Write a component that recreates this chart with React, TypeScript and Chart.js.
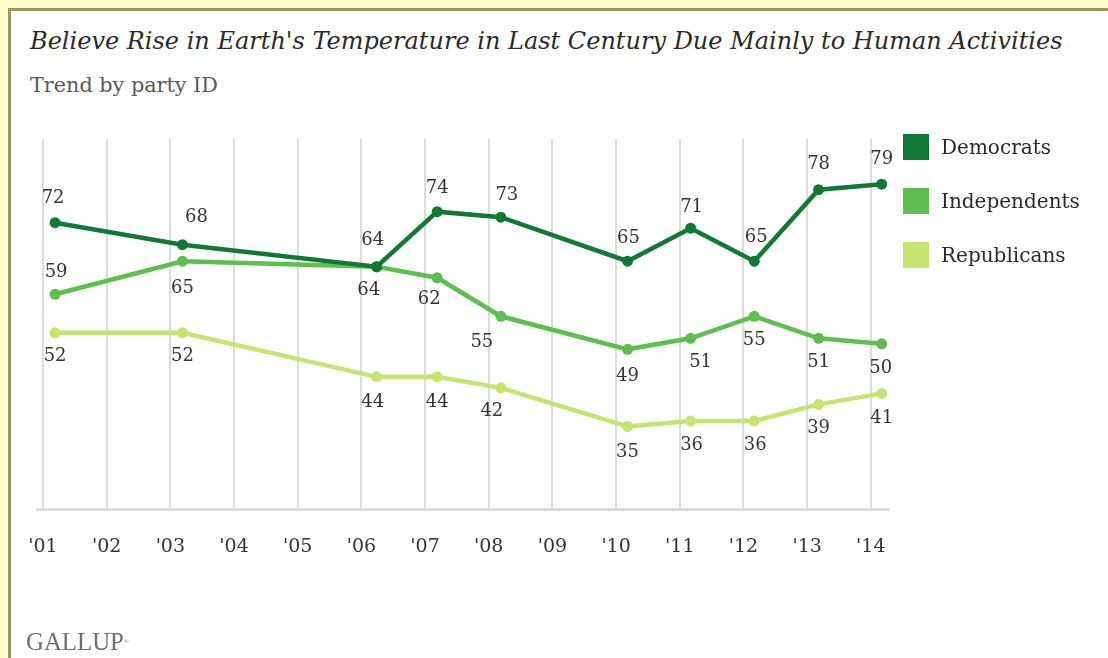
import React, { useEffect, useRef } from 'react';
import { Chart, registerables } from 'chart.js';

Chart.register(...registerables);

// ---- Data ----
const titleText = "Believe Rise in Earth's Temperature in Last Century Due Mainly to Human Activities";
const subtitleText = 'Trend by party ID';
const seriesNames = ['Democrats', 'Independents', 'Republicans'];
const seriesColors = ['#107A35', '#5DBF4E', '#C6E56F'];

// survey dates (decimal years; Gallup March polls)
const surveyDates = [2001.19, 2003.19, 2006.24, 2007.19, 2008.19, 2010.18, 2011.17, 2012.17, 2013.18, 2014.17];
const democrats = [72, 68, 64, 74, 73, 65, 71, 65, 78, 79];
const independents = [59, 65, 64, 62, 55, 49, 51, 55, 51, 50];
const republicans = [52, 52, 44, 44, 42, 35, 36, 36, 39, 41];

const tickYears = [2001, 2002, 2003, 2004, 2005, 2006, 2007, 2008, 2009, 2010, 2011, 2012, 2013, 2014];
const tickLabels = ["'01", "'02", "'03", "'04", "'05", "'06", "'07", "'08", "'09", "'10", "'11", "'12", "'13", "'14"];

// label nudges [dx, dy] relative to each point (style only)
const demNudge = [[-2, -24], [14, -27], [-4, -26], [0, -23], [6, -22], [1, -23], [1, -21], [2, -24], [0, -25], [0, -25]];
const indNudge = [[1, -22], [0, 27], [-8, 24], [-8, 22], [-19, 26], [0, 27], [10, 24], [0, 24], [0, 24], [-1, 25]];
const repNudge = [[0, 24], [0, 24], [-4, 25], [0, 25], [-9, 23], [0, 26], [1, 24], [1, 24], [0, 24], [0, 25]];

const SERIF = '"DejaVu Serif", "Liberation Serif", serif';

let measureCtx: CanvasRenderingContext2D | null = null;
function fitSize(text: string, style: string, family: string, target: number): number {
  if (!measureCtx) measureCtx = document.createElement('canvas').getContext('2d');
  if (!measureCtx) return 20;
  measureCtx.font = `${style} 100px ${family}`;
  const w = measureCtx.measureText(text).width;
  return (100 * target) / w;
}

const valueLabelsPlugin = {
  id: 'valueLabels',
  afterDatasetsDraw(chart: any) {
    const ctx = chart.ctx;
    const nudges = [demNudge, indNudge, repNudge];
    ctx.save();
    ctx.font = `18px ${SERIF}`;
    ctx.fillStyle = '#333';
    ctx.textAlign = 'center';
    ctx.textBaseline = 'middle';
    chart.data.datasets.forEach((ds: any, di: number) => {
      const meta = chart.getDatasetMeta(di);
      meta.data.forEach((pt: any, i: number) => {
        const n = nudges[di][i];
        ctx.fillText(String(ds.data[i].y), pt.x + n[0], pt.y + n[1]);
      });
    });
    ctx.restore();
  },
};

export default function App() {
  const canvasRef = useRef<HTMLCanvasElement | null>(null);

  useEffect(() => {
    const canvas = canvasRef.current;
    if (!canvas) return;
    const mk = (vals: number[]) => vals.map((v, i) => ({ x: surveyDates[i], y: v }));
    const all = [democrats, independents, republicans];
    const chart = new Chart(canvas, {
      type: 'line',
      data: {
        datasets: all.map((vals, i) => ({
          label: seriesNames[i],
          data: mk(vals),
          borderColor: seriesColors[i],
          backgroundColor: seriesColors[i],
          borderWidth: 4.5,
          pointRadius: 5.5,
          pointBorderWidth: 0,
          pointBackgroundColor: seriesColors[i],
          tension: 0,
          fill: false,
        })),
      },
      options: {
        animation: false,
        responsive: false,
        devicePixelRatio: 1,
        layout: { padding: { left: 37, right: 220, top: 139, bottom: 0 } },
        plugins: {
          legend: { display: false },
          tooltip: { enabled: false },
          title: { display: false },
        },
        scales: {
          x: {
            type: 'linear',
            min: 2000.906,
            max: 2014.27,
            afterBuildTicks: (scale: any) => {
              scale.ticks = tickYears.map((v) => ({ value: v }));
            },
            afterFit: (scale: any) => {
              scale.height = 149;
            },
            ticks: {
              autoSkip: false,
              maxRotation: 0,
              minRotation: 0,
              padding: 27,
              color: '#333',
              font: { family: SERIF, size: 19 },
              callback: (v: any) => {
                const idx = tickYears.indexOf(Number(v));
                return idx >= 0 ? tickLabels[idx] : '';
              },
            },
            grid: {
              color: '#dcdcdc',
              lineWidth: 2,
              drawTicks: false,
            },
            border: { display: true, color: '#dcdcdc', width: 3 },
          },
          y: {
            display: false,
            min: 20,
            max: 87.2,
          },
        },
      },
      plugins: [valueLabelsPlugin],
    } as any);
    return () => chart.destroy();
  }, []);

  const titleSize = fitSize(titleText, 'italic', SERIF, 1033);
  const subSize = fitSize(subtitleText, 'normal', SERIF, 188);
  const legendSize = fitSize('Democrats', 'normal', SERIF, 110);
  const gallupSize = fitSize('GALLUP', 'normal', '"Liberation Serif", serif', 98);

  return (
    <div
      style={{
        position: 'fixed',
        left: 0,
        top: 0,
        width: 1108,
        height: 658,
        background: '#FFFFCA',
        overflow: 'hidden',
      }}
    >
      <div
        style={{
          position: 'absolute',
          left: 8,
          top: 8,
          width: 1100,
          height: 650,
          background: '#ffffff',
          borderTop: '3px solid #9E9760',
          borderLeft: '3px solid #9E9760',
          boxSizing: 'border-box',
        }}
      />
      <div
        style={{
          position: 'absolute',
          left: 30,
          top: 41 - titleSize * 0.6,
          fontFamily: SERIF,
          fontStyle: 'italic',
          fontSize: titleSize,
          lineHeight: `${titleSize * 1.2}px`,
          color: '#2b2b2b',
          whiteSpace: 'nowrap',
        }}
      >
        {titleText}
      </div>
      <div
        style={{
          position: 'absolute',
          left: 30,
          top: 85 - subSize * 0.6,
          fontFamily: SERIF,
          fontSize: subSize,
          lineHeight: `${subSize * 1.2}px`,
          color: '#5a5a5a',
          whiteSpace: 'nowrap',
        }}
      >
        {subtitleText}
      </div>
      <canvas
        ref={canvasRef}
        width={1108}
        height={658}
        style={{ position: 'absolute', left: 0, top: 0, width: 1108, height: 658 }}
      />
      {seriesNames.map((name, i) => (
        <div key={name}>
          <div
            style={{
              position: 'absolute',
              left: 903,
              top: 134 + i * 54,
              width: 26,
              height: 26,
              background: seriesColors[i],
            }}
          />
          <div
            style={{
              position: 'absolute',
              left: 941,
              top: 147 + i * 54 - legendSize * 0.6,
              fontFamily: SERIF,
              fontSize: legendSize,
              lineHeight: `${legendSize * 1.2}px`,
              color: '#2b2b2b',
              whiteSpace: 'nowrap',
            }}
          >
            {name}
          </div>
        </div>
      ))}
      <div
        style={{
          position: 'absolute',
          left: 26,
          top: 642 - gallupSize * 0.6,
          fontFamily: '"Liberation Serif", serif',
          fontSize: gallupSize,
          lineHeight: `${gallupSize * 1.2}px`,
          color: '#6f6f6f',
          whiteSpace: 'nowrap',
        }}
      >
        GALLUP<sup style={{ fontSize: 6, verticalAlign: 'top' }}>®</sup>
      </div>
    </div>
  );
}
